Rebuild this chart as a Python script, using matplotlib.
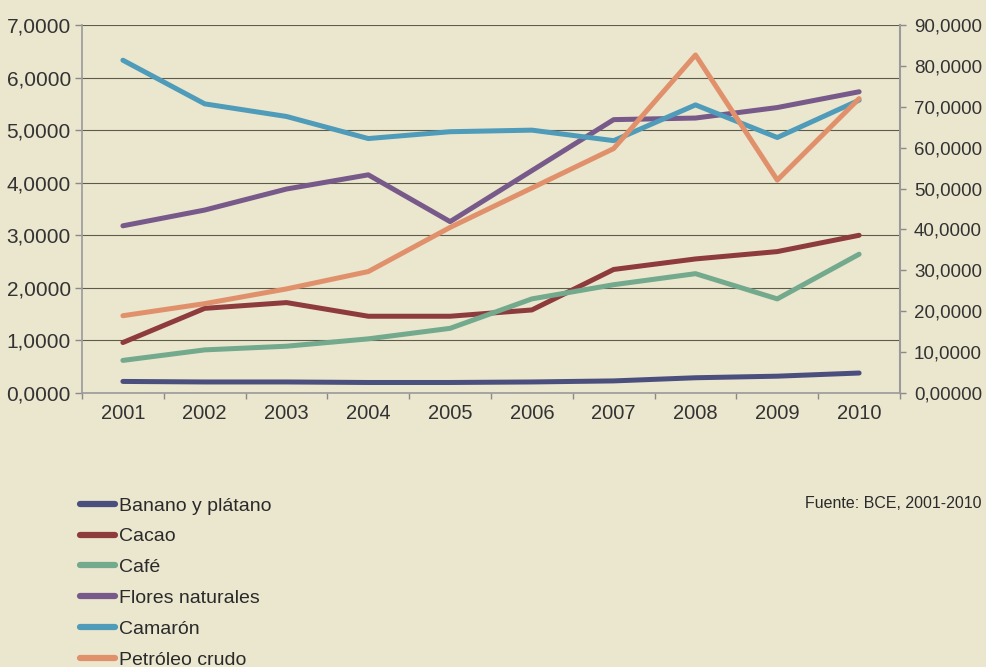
import matplotlib
matplotlib.use('Agg')
import matplotlib.pyplot as plt
import numpy as np
from matplotlib.ticker import FixedLocator

# Years on the x axis
years = ['2001', '2002', '2003', '2004', '2005', '2006', '2007', '2008', '2009', '2010']

# Series values (0-7 scale)
banano = [0.22, 0.21, 0.21, 0.20, 0.20, 0.21, 0.23, 0.29, 0.32, 0.38]
cacao = [0.96, 1.61, 1.72, 1.46, 1.46, 1.58, 2.35, 2.55, 2.69, 3.00]
cafe = [0.62, 0.82, 0.89, 1.03, 1.23, 1.79, 2.06, 2.27, 1.79, 2.64]
flores = [3.18, 3.48, 3.88, 4.15, 3.26, 4.23, 5.20, 5.23, 5.43, 5.73]
camaron = [6.33, 5.50, 5.26, 4.84, 4.97, 5.00, 4.80, 5.48, 4.86, 5.57]
petroleo = [1.47, 1.70, 1.98, 2.31, 3.15, 3.90, 4.65, 6.43, 4.05, 5.60]

series_names = ['Banano y plátano', 'Cacao', 'Café', 'Flores naturales', 'Camarón', 'Petróleo crudo']
series_colors = ['#4b4f7e', '#8e3b3e', '#73a98c', '#77598a', '#4f9bba', '#e0916c']

left_ticks = [0, 1, 2, 3, 4, 5, 6, 7]
right_ticks = [0, 10, 20, 30, 40, 50, 60, 70, 80, 90]
right_labels = ['0,00000', '10,0000', '20,0000', '30,0000', '40,0000', '50,0000',
                '60,0000', '70,0000', '80,0000', '90,0000']

bg = '#ebe6ce'
plt.rcParams['font.family'] = ['Liberation Sans', 'DejaVu Sans']

fig = plt.figure(figsize=(9.87, 6.67), dpi=100, facecolor=bg)
ax = fig.add_axes([82 / 987, 1 - 393 / 667, 818 / 987, 368 / 667])
ax.set_facecolor(bg)

x = np.arange(len(years))
all_series = [banano, cacao, cafe, flores, camaron, petroleo]
for vals, name, col in zip(all_series, series_names, series_colors):
    ax.plot(x, vals, color=col, lw=3.6, solid_capstyle='round',
            solid_joinstyle='round', label=name)

ax.set_xlim(-0.5, len(years) - 0.5)
ax.set_ylim(0, 7)

# gridlines + left axis
ax.set_yticks(left_ticks)
ax.set_yticklabels(['%d,0000' % v for v in left_ticks])
ax.yaxis.grid(True, color='#5f5b4a', lw=0.8)
ax.set_axisbelow(True)
ax.tick_params(axis='y', labelsize=15, colors='#8a8a8a', labelcolor='#333333',
               length=5, width=1, pad=3)

# x axis: labels at centres, small ticks at category boundaries
ax.set_xticks(x)
ax.set_xticklabels(years, fontsize=14.5, color='#333333')
ax.tick_params(axis='x', length=0, pad=8)
ax.xaxis.set_minor_locator(FixedLocator(np.arange(-0.5, len(years), 1.0)))
ax.tick_params(axis='x', which='minor', length=4, width=1, color='#8a8a8a')

ax.spines['top'].set_visible(False)
for side in ['left', 'bottom', 'right']:
    ax.spines[side].set_color('#9a9a9a')
    ax.spines[side].set_linewidth(1.2)

# right axis on the 0-90 scale
ax2 = ax.twinx()
ax2.set_ylim(0, 90)
ax2.set_yticks(right_ticks)
ax2.set_yticklabels(right_labels)
ax2.tick_params(axis='y', labelsize=13.5, colors='#8a8a8a', labelcolor='#333333',
                length=4, width=1, pad=6)
ax2.spines['top'].set_visible(False)
ax2.spines['right'].set_color('#9a9a9a')
ax2.spines['right'].set_linewidth(1.5)
ax2.spines['left'].set_visible(False)
ax2.spines['bottom'].set_visible(False)

# legend below the chart, one entry per row
handles, labels = ax.get_legend_handles_labels()
leg = fig.legend(handles, labels, loc='upper left', bbox_to_anchor=(80 / 987, 1 - 497 / 667),
                 frameon=False, fontsize=14, handlelength=1.8, handletextpad=0.2,
                 labelspacing=0.68, borderpad=0, borderaxespad=0)
for line in leg.get_lines():
    line.set_linewidth(4.5)
for t in leg.get_texts():
    t.set_color('#2a2a2a')

fig.text(982 / 987, 1 - 503 / 667, 'Fuente: BCE, 2001-2010', ha='right', va='center',
         fontsize=11.5, color='#2a2a2a')

fig.savefig('out.png', dpi=100, facecolor=bg)
